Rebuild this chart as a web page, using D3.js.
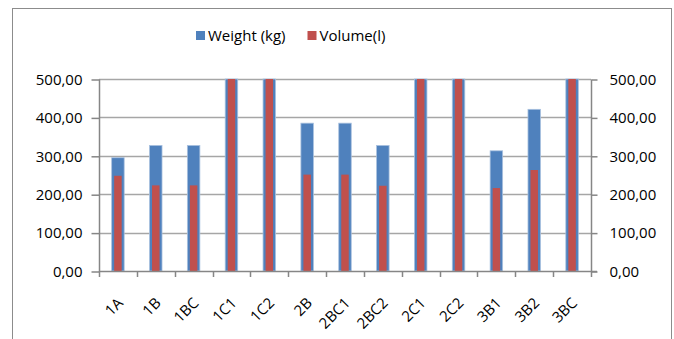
<!DOCTYPE html>
<html><head><meta charset="utf-8">
<script src="https://cdn.jsdelivr.net/npm/d3@7"></script>
<style>body{margin:0;background:#fff}svg{display:block}text{font-family:"Open Sans",sans-serif;fill:#000}</style>
</head><body>
<svg id="c" width="674" height="339"></svg>
<script>
const categories = ["1A","1B","1BC","1C1","1C2","2B","2BC1","2BC2","2C1","2C2","3B1","3B2","3BC"];
const weight = [295, 327, 327, 500, 500, 385, 385, 327, 500, 500, 313, 421, 500];
const volume = [248, 223, 223, 500, 500, 251, 251, 222, 500, 500, 216, 263, 500];
const yTicks = [0, 100, 200, 300, 400, 500];
const seriesNames = ["Weight (kg)", "Volume(l)"];
const colors = ["#4f81bd", "#c0504d"];

const svg = d3.select("#c");
const L = 99, R = 591, T = 79, B = 271;
const fmt = v => d3.format(".2f")(v).replace(".", ",");

// frame
svg.append("rect").attr("x", 12.5).attr("y", 8.5).attr("width", 659).attr("height", 340)
  .attr("fill", "none").attr("stroke", "#8c8c8c").attr("stroke-width", 1);

const x = d3.scaleBand().domain(categories).range([L, R]);
const y = d3.scaleLinear().domain([0, 500]).range([B, T]);

// gridlines
svg.append("g").selectAll("line").data(yTicks.filter(d => d > 0)).join("line")
  .attr("x1", L).attr("x2", R).attr("y1", d => Math.round(y(d)) + 0.5).attr("y2", d => Math.round(y(d)) + 0.5)
  .attr("stroke", "#a6a6a6").attr("stroke-width", 1.5);

// bars
const bw = 12.5, rw = 7.5;
svg.append("g").selectAll("rect").data(categories).join("rect")
  .attr("x", d => x(d) + x.bandwidth() / 2 - bw / 2)
  .attr("width", bw)
  .attr("y", (d, i) => y(Math.min(500, weight[i])))
  .attr("height", (d, i) => B - y(Math.min(500, weight[i])))
  .attr("fill", colors[0]).attr("stroke", "#a9c1df").attr("stroke-width", 0.8);
svg.append("g").selectAll("rect").data(categories).join("rect")
  .attr("x", d => x(d) + x.bandwidth() / 2 - rw / 2)
  .attr("width", rw)
  .attr("y", (d, i) => y(Math.min(500, volume[i])))
  .attr("height", (d, i) => B - y(Math.min(500, volume[i])))
  .attr("fill", colors[1]);

// y axes
const yl = d3.axisLeft(y).tickValues(yTicks).tickSize(8).tickPadding(9).tickFormat(fmt);
const gl = svg.append("g").attr("transform", `translate(${L + 0.5},0.5)`).call(yl);
const yr = d3.axisRight(y).tickValues(yTicks).tickSize(6).tickPadding(12).tickFormat(fmt);
const gr = svg.append("g").attr("transform", `translate(${R + 0.5},0.5)`).call(yr);
[gl, gr].forEach(g => {
  g.select(".domain").attr("stroke", "#868686").attr("stroke-width", 1.5).attr("d", `M0,${T}V${B}`);
  g.selectAll(".tick line").attr("stroke", "#868686").attr("stroke-width", 1.5);
  g.selectAll(".tick text").attr("font-size", 15).attr("font-family", "'Open Sans',sans-serif").attr("fill", "#000");
});

// x axis
const gx = svg.append("g");
gx.append("line").attr("x1", L).attr("x2", R + 6).attr("y1", B + 0.5).attr("y2", B + 0.5)
  .attr("stroke", "#868686").attr("stroke-width", 1.5);
const bounds = categories.map(d => x(d)).concat([R]);
gx.selectAll("line.t").data(bounds).join("line").attr("class", "t")
  .attr("x1", d => Math.round(d) + 0.5).attr("x2", d => Math.round(d) + 0.5)
  .attr("y1", B).attr("y2", B + 6).attr("stroke", "#868686").attr("stroke-width", 1.5);
gx.selectAll("text").data(categories).join("text")
  .attr("transform", d => `translate(${x(d) + x.bandwidth() / 2 + 6},${B + 33}) rotate(-45)`)
  .attr("text-anchor", "end").attr("font-size", 15).text(d => d);

// legend
const lg = svg.append("g");
const lx = [196, 307.5];
seriesNames.forEach((n, i) => {
  lg.append("rect").attr("x", lx[i]).attr("y", 31).attr("width", 9).attr("height", 9).attr("fill", colors[i]);
  lg.append("text").attr("x", lx[i] + 12).attr("y", 41).attr("font-size", 15).text(n);
});
</script>
</body></html>
